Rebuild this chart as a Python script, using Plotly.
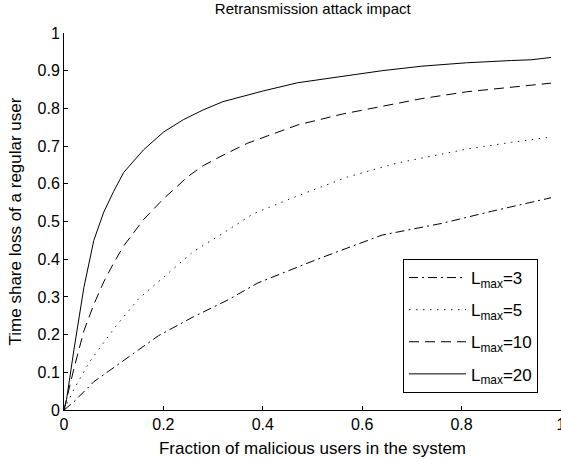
import plotly.graph_objects as go

# Data
x_l3 = [0, 0.02, 0.06, 0.13, 0.19, 0.26, 0.33, 0.39, 0.51, 0.64, 0.76, 0.86, 0.98]
y_l3 = [0, 0.022, 0.075, 0.141, 0.197, 0.247, 0.292, 0.337, 0.40, 0.464, 0.495, 0.527, 0.563]

x_l5 = [0, 0.02, 0.05, 0.10, 0.15, 0.20, 0.26, 0.32, 0.38, 0.47, 0.57, 0.67, 0.77, 0.81, 0.90, 0.98]
y_l5 = [0, 0.055, 0.125, 0.215, 0.295, 0.352, 0.42, 0.469, 0.52, 0.568, 0.618, 0.655, 0.682, 0.692, 0.71, 0.724]

x_l10 = [0, 0.02, 0.04, 0.06, 0.08, 0.10, 0.12, 0.14, 0.16, 0.20, 0.25, 0.28, 0.32, 0.37, 0.47, 0.56, 0.64, 0.72, 0.81, 0.90, 0.98]
y_l10 = [0, 0.11, 0.21, 0.28, 0.34, 0.39, 0.435, 0.47, 0.505, 0.56, 0.62, 0.648, 0.676, 0.708, 0.756, 0.785, 0.806, 0.826, 0.844, 0.857, 0.867]

x_l20 = [0, 0.005, 0.02, 0.04, 0.06, 0.08, 0.10, 0.12, 0.16, 0.20, 0.24, 0.28, 0.32, 0.40, 0.47, 0.56, 0.64, 0.72, 0.81, 0.90, 0.94, 0.98]
y_l20 = [0, 0.027, 0.16, 0.325, 0.45, 0.525, 0.58, 0.63, 0.69, 0.737, 0.77, 0.796, 0.818, 0.846, 0.868, 0.885, 0.90, 0.912, 0.921, 0.927, 0.929, 0.935]

series_names = ["L<sub>max</sub>=3", "L<sub>max</sub>=5", "L<sub>max</sub>=10", "L<sub>max</sub>=20"]
x_ticks = [0, 0.2, 0.4, 0.6, 0.8, 1]
y_ticks = [0, 0.1, 0.2, 0.3, 0.4, 0.5, 0.6, 0.7, 0.8, 0.9, 1]

FONT = "Liberation Sans, Arial, Helvetica, sans-serif"

styles = [
    dict(color="black", width=1, dash="9px,4px,2px,4px"),
    dict(color="#222222", width=1, dash="1.5px,5.5px"),
    dict(color="black", width=1, dash="10px,6px"),
    dict(color="black", width=1),
]

fig = go.Figure()
for i, (xs, ys, name, st) in enumerate(zip([x_l3, x_l5, x_l10, x_l20], [y_l3, y_l5, y_l10, y_l20], series_names, styles)):
    fig.add_trace(go.Scatter(x=xs, y=ys, mode="lines", name=name, line=st,
                             legendgroup="g%d" % i))

fig.update_layout(
    width=561, height=459,
    margin=dict(l=64, r=0, t=33, b=49, autoexpand=False),
    paper_bgcolor="white", plot_bgcolor="white",
    font=dict(family=FONT, size=16, color="black"),
    title=dict(text="Retransmission attack impact", x=0.5575, xanchor="center",
               y=0.981, yanchor="middle", font=dict(size=15, family=FONT, color="black")),
    showlegend=True,
    legend=dict(x=0.9537, xanchor="right", y=0.4005, yanchor="top",
                bordercolor="black", borderwidth=1, bgcolor="white",
                font=dict(size=17, family=FONT), tracegroupgap=7,
                itemwidth=57),
    xaxis=dict(range=[0, 1], tickvals=x_ticks, ticktext=[str(v) for v in x_ticks],
               showgrid=False, zeroline=False, showline=True, linecolor="black", linewidth=1,
               ticks="inside", ticklen=4, tickcolor="black", mirror=False,
               automargin=False, ticklabeloverflow="allow",
               title=dict(text="Fraction of malicious users in the system", standoff=9,
                          font=dict(size=17)),
               tickfont=dict(size=16)),
    yaxis=dict(range=[0, 1], tickvals=y_ticks, ticktext=[("%g" % v) for v in y_ticks],
               showgrid=False, zeroline=False, showline=True, linecolor="black", linewidth=1,
               ticks="inside", ticklen=4, tickcolor="black", mirror=False,
               automargin=False, ticklabeloverflow="allow",
               title=dict(text="Time share loss of a regular user", standoff=11,
                          font=dict(size=17)),
               tickfont=dict(size=16)),
)

fig.write_html("out.html", config={"displayModeBar": False},
               post_script="document.body.style.margin='0';")
